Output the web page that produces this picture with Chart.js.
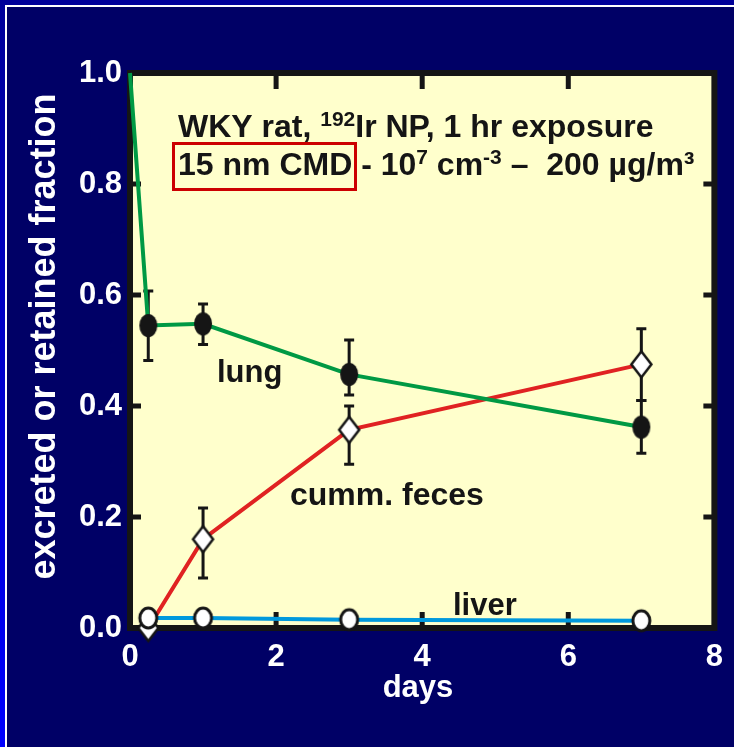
<!DOCTYPE html>
<html>
<head>
<meta charset="utf-8">
<script src="https://cdn.jsdelivr.net/npm/chart.js@4.4.1/dist/chart.umd.min.js"></script>
<style>
  html, body { margin: 0; padding: 0; background: #000066; overflow: hidden; }
  #wrap { width: 734px; height: 747px; position: relative; }
  canvas { display: block; }
</style>
</head>
<body>
<div id="wrap"><canvas id="chart" width="734" height="747"></canvas></div>
<script>
// Sampling times (days after the 1 hr exposure)
const lungDays = [0, 0.25, 1, 3, 7];
const days = [0.25, 1, 3, 7];

// Lung retention (fraction of deposited dose) with error bar limits
const lungFraction = [1.0, 0.545, 0.548, 0.457, 0.362];
const lungUpper = [null, 0.607, 0.584, 0.519, 0.410];
const lungLower = [null, 0.482, 0.511, 0.420, 0.315];

// Cumulative fecal excretion with error bar limits
const fecesFraction = [0.0, 0.160, 0.357, 0.475];
const fecesUpper = [null, 0.216, 0.400, 0.539];
const fecesLower = [null, 0.090, 0.295, 0.410];

// Liver content
const liverFraction = [0.018, 0.018, 0.015, 0.013];

// Axis ticks and titles
const xTicks = [0, 2, 4, 6, 8];
const yTicks = [0, 0.2, 0.4, 0.6, 0.8, 1.0];
const xTitle = 'days';
const yTitle = 'excreted or retained fraction';

const FONT = '"Liberation Sans", Arial, Helvetica, sans-serif';
const INK = '#151515';

function pts(xs, ys) { return xs.map((x, i) => ({ x: x, y: ys[i] })); }

// Marker glyphs
function ellipseMarker(w, h, fill, stroke, lw) {
  const c = document.createElement('canvas');
  c.width = w + lw * 2 + 2; c.height = h + lw * 2 + 2;
  const g = c.getContext('2d');
  g.beginPath();
  g.ellipse(c.width / 2, c.height / 2, w / 2, h / 2, 0, 0, Math.PI * 2);
  g.fillStyle = fill; g.fill();
  if (stroke) { g.lineWidth = lw; g.strokeStyle = stroke; g.stroke(); }
  return c;
}
function diamondMarker(w, h, lw) {
  const c = document.createElement('canvas');
  c.width = w + lw * 2 + 2; c.height = h + lw * 2 + 2;
  const g = c.getContext('2d');
  const cx = c.width / 2, cy = c.height / 2;
  g.beginPath();
  g.moveTo(cx, cy - h / 2); g.lineTo(cx + w / 2, cy);
  g.lineTo(cx, cy + h / 2); g.lineTo(cx - w / 2, cy); g.closePath();
  g.fillStyle = '#ffffff'; g.fill();
  g.lineWidth = lw; g.strokeStyle = INK; g.lineJoin = 'miter'; g.stroke();
  return c;
}
const lungMark = ellipseMarker(18, 23, INK, null, 0);
const liverMark = ellipseMarker(17, 20, '#ffffff', INK, 3);
const fecesMark = diamondMarker(20, 26, 2.5);

// Frame, panel, border, inward ticks, error bars and labels
const framePlugin = {
  id: 'frame',
  beforeDraw(chart) {
    const { ctx, chartArea: a, width, height } = chart;
    ctx.save();
    ctx.fillStyle = '#000066';
    ctx.fillRect(0, 0, width, height);
    ctx.fillStyle = '#000099';
    ctx.fillRect(0, 0, width, 5);
    const grad = ctx.createLinearGradient(0, 0, 0, height);
    grad.addColorStop(0, '#000099');
    grad.addColorStop(1, '#0000ff');
    ctx.fillStyle = grad;
    ctx.fillRect(0, 0, 5, height);
    ctx.fillStyle = '#ffffff';
    ctx.fillRect(5, 5, width, 2);
    ctx.fillRect(5, 5, 2, height);
    ctx.fillStyle = '#ffffcc';
    ctx.fillRect(a.left, a.top, a.right - a.left, a.bottom - a.top);

    // axis titles
    ctx.fillStyle = '#ffffff';
    ctx.font = 'bold 31px ' + FONT;
    ctx.textAlign = 'center';
    ctx.textBaseline = 'alphabetic';
    ctx.fillText(xTitle, 418, 697);
    ctx.translate(55, 336.5);
    ctx.rotate(-Math.PI / 2);
    ctx.font = 'bold 36px ' + FONT;
    ctx.fillText(yTitle, 0, 0);
    ctx.restore();
  },
  beforeDatasetsDraw(chart) {
    const { ctx, chartArea: a, scales } = chart;
    ctx.save();
    ctx.fillStyle = INK;
    xTicks.slice(1, -1).forEach(v => {
      const px = scales.x.getPixelForValue(v);
      ctx.fillRect(px - 2.5, a.bottom - 16, 5, 16);
      ctx.fillRect(px - 2.5, a.top, 5, 16);
    });
    yTicks.slice(1, -1).forEach(v => {
      const py = scales.y.getPixelForValue(v);
      ctx.fillRect(a.left, py - 2.5, 11, 5);
      ctx.fillRect(a.right - 11, py - 2.5, 11, 5);
    });
    ctx.strokeStyle = INK;
    ctx.lineWidth = 6;
    ctx.lineJoin = 'miter';
    ctx.strokeRect(a.left, a.top, a.right - a.left, a.bottom - a.top);

    const bars = (xs, up, lo) => {
      xs.forEach((x, i) => {
        if (up[i] == null) return;
        const px = scales.x.getPixelForValue(x);
        const pu = scales.y.getPixelForValue(up[i]);
        const pl = scales.y.getPixelForValue(lo[i]);
        ctx.lineWidth = 3;
        ctx.beginPath();
        ctx.moveTo(px, pu); ctx.lineTo(px, pl);
        ctx.moveTo(px - 5, pu); ctx.lineTo(px + 5, pu);
        ctx.moveTo(px - 5, pl); ctx.lineTo(px + 5, pl);
        ctx.stroke();
      });
    };
    bars(lungDays, lungUpper, lungLower);
    bars(days, fecesUpper, fecesLower);
    ctx.restore();
  },
  afterDatasetsDraw(chart) {
    const { ctx } = chart;
    ctx.save();
    ctx.fillStyle = INK;
    ctx.textBaseline = 'alphabetic';
    ctx.textAlign = 'left';
    const big = 'bold 32px ' + FONT;
    const small = 'bold 21px ' + FONT;
    // a run of text pieces, some raised as superscripts
    const run = (x, y, parts) => {
      parts.forEach(p => {
        ctx.font = p.sup ? small : big;
        ctx.fillText(p.t, x, p.sup ? y - 11 : y);
        x += ctx.measureText(p.t).width;
      });
    };
    run(178, 137, [
      { t: 'WKY rat, ' }, { t: '192', sup: true }, { t: 'Ir NP, 1 hr exposure' }
    ]);
    run(178, 175, [
      { t: '15 nm CMD' }, { t: ' - 10' }, { t: '7', sup: true },
      { t: ' cm' }, { t: '-3', sup: true }, { t: ' \u2013  200 \u00b5g/m\u00b3' }
    ]);
    ctx.strokeStyle = '#cc0000';
    ctx.lineWidth = 3;
    ctx.strokeRect(173.5, 143.5, 182, 46);

    ctx.font = 'bold 31px ' + FONT;
    ctx.fillText('lung', 217, 382);
    ctx.font = 'bold 32px ' + FONT;
    ctx.fillText('cumm. feces', 290, 505);
    ctx.font = 'bold 31px ' + FONT;
    ctx.fillText('liver', 453, 615);
    ctx.restore();
  }
};

const tickFont = { family: FONT, size: 31, weight: 'bold' };

new Chart(document.getElementById('chart'), {
  type: 'line',
  data: {
    datasets: [
      {
        label: 'liver',
        data: pts(days, liverFraction),
        borderColor: '#0099dd',
        borderWidth: 4,
        pointStyle: liverMark,
        pointRadius: 10,
        order: 0
      },
      {
        label: 'lung',
        data: pts(lungDays, lungFraction),
        borderColor: '#009944',
        borderWidth: 4,
        pointStyle: lungMark,
        pointRadius: ctx => (ctx.dataIndex === 0 ? 0 : 10),
        order: 1
      },
      {
        label: 'cumm. feces',
        data: pts(days, fecesFraction),
        borderColor: '#e02222',
        borderWidth: 4,
        pointStyle: fecesMark,
        pointRadius: 12,
        order: 2
      }
    ]
  },
  options: {
    responsive: false,
    animation: false,
    events: [],
    clip: false,
    layout: { padding: { top: 73, right: 16, left: 0, bottom: 0 } },
    elements: { line: { tension: 0, fill: false } },
    plugins: { legend: { display: false }, tooltip: { enabled: false } },
    scales: {
      x: {
        type: 'linear',
        min: 0, max: 8,
        afterBuildTicks: s => { s.ticks = xTicks.map(v => ({ value: v })); },
        afterFit: s => { s.height = 119; },
        grid: { display: false, drawTicks: false },
        border: { display: false },
        ticks: { color: '#ffffff', font: tickFont, padding: 11, maxRotation: 0, callback: v => String(v) }
      },
      y: {
        type: 'linear',
        min: 0, max: 1,
        afterBuildTicks: s => { s.ticks = yTicks.map(v => ({ value: v })); },
        afterFit: s => { s.width = 130; },
        grid: { display: false, drawTicks: false },
        border: { display: false },
        ticks: { color: '#ffffff', font: tickFont, padding: 8, callback: v => Number(v).toFixed(1) }
      }
    }
  },
  plugins: [framePlugin]
});
</script>
</body>
</html>
